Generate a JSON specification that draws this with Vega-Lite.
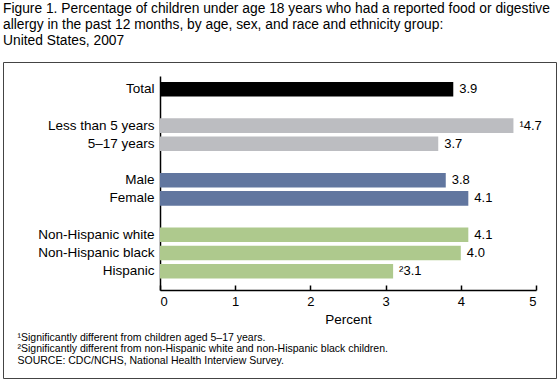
{
  "$schema": "https://vega.github.io/schema/vega-lite/v6.json",
  "width": 553,
  "height": 316,
  "autosize": {"type": "none"},
  "padding": {"left": 3, "top": 62, "right": 4, "bottom": 2},
  "background": "white",
  "title": {
    "text": [
      "Figure 1. Percentage of children under age 18 years who had a reported food or digestive",
      "allergy in the past 12 months, by age, sex, and race and ethnicity group:",
      "United States, 2007"
    ],
    "anchor": "start",
    "frame": "group",
    "font": "Liberation Sans",
    "fontSize": 13.8,
    "fontWeight": "normal",
    "lineHeight": 16,
    "offset": 14,
    "color": "black"
  },
  "config": {
    "view": {"stroke": "#444444", "strokeWidth": 1},
    "font": "Liberation Sans"
  },
  "data": {
    "values": [
      {"group": "Total", "cat": "total", "value": 3.9, "label": "3.9"},
      {"group": "Less than 5 years", "cat": "age", "value": 4.7, "label": "¹4.7"},
      {"group": "5–17 years", "cat": "age", "value": 3.7, "label": "3.7"},
      {"group": "Male", "cat": "sex", "value": 3.8, "label": "3.8"},
      {"group": "Female", "cat": "sex", "value": 4.1, "label": "4.1"},
      {"group": "Non-Hispanic white", "cat": "race", "value": 4.1, "label": "4.1"},
      {"group": "Non-Hispanic black", "cat": "race", "value": 4.0, "label": "4.0"},
      {"group": "Hispanic", "cat": "race", "value": 3.1, "label": "²3.1"}
    ]
  },
  "encoding": {
    "y": {
      "field": "group",
      "type": "nominal",
      "scale": {
        "domain": ["Total", " ", "Less than 5 years", "5–17 years", "  ", "Male", "Female", "   ", "Non-Hispanic white", "Non-Hispanic black", "Hispanic"],
        "range": [14, 228],
        "paddingInner": 0.2,
        "paddingOuter": 0.48,
        "align": 0.34
      },
      "axis": {
        "orient": "left",
        "offset": -157,
        "domainColor": "black",
        "domainWidth": 1.5,
        "ticks": false,
        "grid": false,
        "labelPadding": 6,
        "labelFontSize": 13.5,
        "labelFontWeight": "normal",
        "labelColor": "black",
        "labelLimit": 300,
        "title": [
          "¹Significantly different from children aged 5–17 years.",
          "²Significantly different from non-Hispanic white and non-Hispanic black children.",
          "SOURCE: CDC/NCHS, National Health Interview Survey."
        ],
        "titleAngle": 0,
        "titleAlign": "left",
        "titleBaseline": "alphabetic",
        "titleX": -143,
        "titleY": 278,
        "titleFontSize": 10.5,
        "titleFontWeight": "normal",
        "titleLineHeight": 11.5,
        "titleColor": "black"
      }
    },
    "x": {
      "field": "value",
      "type": "quantitative",
      "scale": {"domain": [0, 5], "range": [157, 533], "nice": false},
      "axis": {
        "orient": "bottom",
        "offset": -88,
        "values": [0, 1, 2, 3, 4, 5],
        "format": "d",
        "tickSize": -5,
        "tickColor": "black",
        "tickWidth": 1.5,
        "domainColor": "black",
        "domainWidth": 1.5,
        "grid": false,
        "labelFontSize": 13,
        "labelFontWeight": "normal",
        "labelColor": "black",
        "labelPadding": 10,
        "title": "Percent",
        "titleFontSize": 13.5,
        "titleFontWeight": "normal",
        "titleColor": "black",
        "titlePadding": 4
      }
    }
  },
  "layer": [
    {
      "mark": {"type": "bar"},
      "encoding": {
        "color": {
          "field": "cat",
          "type": "nominal",
          "scale": {"domain": ["total", "age", "sex", "race"], "range": ["#000000", "#bcbdc1", "#61769f", "#aec98d"]},
          "legend": null
        }
      }
    },
    {
      "mark": {"type": "text", "align": "left", "baseline": "middle", "dx": 6, "fontSize": 13, "color": "black"},
      "encoding": {
        "text": {"field": "label"}
      }
    }
  ]
}
